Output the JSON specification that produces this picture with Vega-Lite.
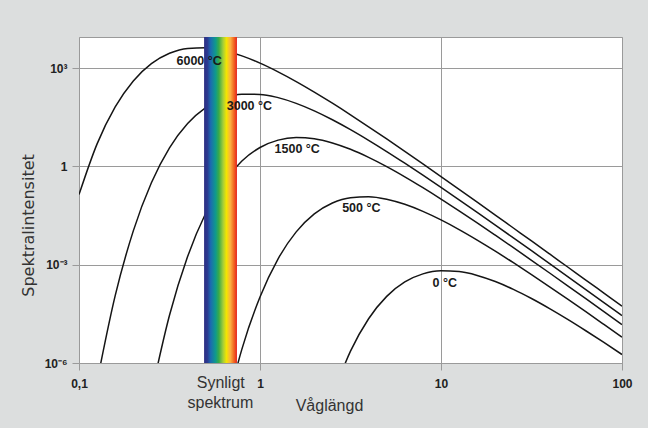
{
  "$schema": "https://vega.github.io/schema/vega-lite/v6.json",
  "width": 543,
  "height": 326,
  "autosize": {"type": "none"},
  "padding": {"left": 79, "top": 37, "right": 26, "bottom": 65},
  "background": "#dcdede",
  "config": {
    "view": {"fill": "white", "stroke": "#9a9a9a", "strokeWidth": 1},
    "font": "Liberation Sans"
  },
  "datasets": {
    "curves": [
      {"s": "6000", "wl": 0.1, "i": 0.1377},
      {"s": "6000", "wl": 0.12589, "i": 4.864},
      {"s": "6000", "wl": 0.15849, "i": 65.31},
      {"s": "6000", "wl": 0.19953, "i": 404.6},
      {"s": "6000", "wl": 0.25119, "i": 1361},
      {"s": "6000", "wl": 0.31623, "i": 2818},
      {"s": "6000", "wl": 0.39811, "i": 3972},
      {"s": "6000", "wl": 0.50119, "i": 4140},
      {"s": "6000", "wl": 0.63096, "i": 3412},
      {"s": "6000", "wl": 0.79433, "i": 2350},
      {"s": "6000", "wl": 1, "i": 1413},
      {"s": "6000", "wl": 1.2589, "i": 767.4},
      {"s": "6000", "wl": 1.5849, "i": 387.3},
      {"s": "6000", "wl": 1.9953, "i": 184.5},
      {"s": "6000", "wl": 2.5119, "i": 84.33},
      {"s": "6000", "wl": 3.1623, "i": 37.37},
      {"s": "6000", "wl": 3.9811, "i": 16.14},
      {"s": "6000", "wl": 5.0119, "i": 6.855},
      {"s": "6000", "wl": 6.3096, "i": 2.871},
      {"s": "6000", "wl": 7.9433, "i": 1.189},
      {"s": "6000", "wl": 10, "i": 0.4887},
      {"s": "6000", "wl": 12.589, "i": 0.1991},
      {"s": "6000", "wl": 15.849, "i": 0.08091},
      {"s": "6000", "wl": 19.953, "i": 0.03266},
      {"s": "6000", "wl": 25.119, "i": 0.01315},
      {"s": "6000", "wl": 31.623, "i": 0.005297},
      {"s": "6000", "wl": 39.811, "i": 0.002123},
      {"s": "6000", "wl": 50.119, "i": 0.0008492},
      {"s": "6000", "wl": 63.096, "i": 0.0003404},
      {"s": "6000", "wl": 79.433, "i": 0.0001358},
      {"s": "6000", "wl": 100, "i": 0.0000542},

      {"s": "3000", "wl": 0.12589, "i": 2.72e-7},
      {"s": "3000", "wl": 0.15849, "i": 0.0001132},
      {"s": "3000", "wl": 0.19953, "i": 0.01076},
      {"s": "3000", "wl": 0.25119, "i": 0.3155},
      {"s": "3000", "wl": 0.31623, "i": 3.656},
      {"s": "3000", "wl": 0.39811, "i": 20.18},
      {"s": "3000", "wl": 0.50119, "i": 61.8},
      {"s": "3000", "wl": 0.63096, "i": 118.9},
      {"s": "3000", "wl": 0.79433, "i": 157.8},
      {"s": "3000", "wl": 1, "i": 157.0},
      {"s": "3000", "wl": 1.2589, "i": 125.0},
      {"s": "3000", "wl": 1.5849, "i": 83.75},
      {"s": "3000", "wl": 1.9953, "i": 49.43},
      {"s": "3000", "wl": 2.5119, "i": 26.49},
      {"s": "3000", "wl": 3.1623, "i": 13.21},
      {"s": "3000", "wl": 3.9811, "i": 6.237},
      {"s": "3000", "wl": 5.0119, "i": 2.838},
      {"s": "3000", "wl": 6.3096, "i": 1.25},
      {"s": "3000", "wl": 7.9433, "i": 0.5383},
      {"s": "3000", "wl": 10, "i": 0.228},
      {"s": "3000", "wl": 12.589, "i": 0.09528},
      {"s": "3000", "wl": 15.849, "i": 0.03936},
      {"s": "3000", "wl": 19.953, "i": 0.01614},
      {"s": "3000", "wl": 25.119, "i": 0.006577},
      {"s": "3000", "wl": 31.623, "i": 0.002667},
      {"s": "3000", "wl": 39.811, "i": 0.001079},
      {"s": "3000", "wl": 50.119, "i": 0.0004345},
      {"s": "3000", "wl": 63.096, "i": 0.0001746},
      {"s": "3000", "wl": 79.433, "i": 0.00006999},
      {"s": "3000", "wl": 100, "i": 0.00002799},

      {"s": "1500", "wl": 0.25119, "i": 1.172e-7},
      {"s": "1500", "wl": 0.31623, "i": 0.00002851},
      {"s": "1500", "wl": 0.39811, "i": 0.001766},
      {"s": "1500", "wl": 0.50119, "i": 0.03698},
      {"s": "1500", "wl": 0.63096, "i": 0.3266},
      {"s": "1500", "wl": 0.79433, "i": 1.456},
      {"s": "1500", "wl": 1, "i": 3.767},
      {"s": "1500", "wl": 1.2589, "i": 6.324},
      {"s": "1500", "wl": 1.5849, "i": 7.569},
      {"s": "1500", "wl": 1.9953, "i": 6.934},
      {"s": "1500", "wl": 2.5119, "i": 5.176},
      {"s": "1500", "wl": 3.1623, "i": 3.311},
      {"s": "1500", "wl": 3.9811, "i": 1.884},
      {"s": "1500", "wl": 5.0119, "i": 0.984},
      {"s": "1500", "wl": 6.3096, "i": 0.4808},
      {"s": "1500", "wl": 7.9433, "i": 0.2239},
      {"s": "1500", "wl": 10, "i": 0.1007},
      {"s": "1500", "wl": 12.589, "i": 0.04395},
      {"s": "1500", "wl": 15.849, "i": 0.01884},
      {"s": "1500", "wl": 19.953, "i": 0.007925},
      {"s": "1500", "wl": 25.119, "i": 0.003304},
      {"s": "1500", "wl": 31.623, "i": 0.001361},
      {"s": "1500", "wl": 39.811, "i": 0.0005572},
      {"s": "1500", "wl": 50.119, "i": 0.0002265},
      {"s": "1500", "wl": 63.096, "i": 0.00009163},
      {"s": "1500", "wl": 79.433, "i": 0.00003698},
      {"s": "1500", "wl": 100, "i": 0.00001489},

      {"s": "500", "wl": 0.63096, "i": 1.941e-8},
      {"s": "500", "wl": 0.79433, "i": 0.000002655},
      {"s": "500", "wl": 1, "i": 0.0001038},
      {"s": "500", "wl": 1.2589, "i": 0.00151},
      {"s": "500", "wl": 1.5849, "i": 0.01},
      {"s": "500", "wl": 1.9953, "i": 0.0354},
      {"s": "500", "wl": 2.5119, "i": 0.07621},
      {"s": "500", "wl": 3.1623, "i": 0.1109},
      {"s": "500", "wl": 3.9811, "i": 0.1186},
      {"s": "500", "wl": 5.0119, "i": 0.09954},
      {"s": "500", "wl": 6.3096, "i": 0.0695},
      {"s": "500", "wl": 7.9433, "i": 0.04227},
      {"s": "500", "wl": 10, "i": 0.02317},
      {"s": "500", "wl": 12.589, "i": 0.01175},
      {"s": "500", "wl": 15.849, "i": 0.005623},
      {"s": "500", "wl": 19.953, "i": 0.002582},
      {"s": "500", "wl": 25.119, "i": 0.001146},
      {"s": "500", "wl": 31.623, "i": 0.0004966},
      {"s": "500", "wl": 39.811, "i": 0.0002114},
      {"s": "500", "wl": 50.119, "i": 0.00008851},
      {"s": "500", "wl": 63.096, "i": 0.00003673},
      {"s": "500", "wl": 79.433, "i": 0.00001507},
      {"s": "500", "wl": 100, "i": 0.000006152},

      {"s": "0", "wl": 2.5119, "i": 9.727e-8},
      {"s": "0", "wl": 3.1623, "i": 0.000002301},
      {"s": "0", "wl": 3.9811, "i": 0.00002244},
      {"s": "0", "wl": 5.0119, "i": 0.0001079},
      {"s": "0", "wl": 6.3096, "i": 0.0002972},
      {"s": "0", "wl": 7.9433, "i": 0.0005236},
      {"s": "0", "wl": 10, "i": 0.0006501},
      {"s": "0", "wl": 12.589, "i": 0.0006152},
      {"s": "0", "wl": 15.849, "i": 0.0004699},
      {"s": "0", "wl": 19.953, "i": 0.0003055},
      {"s": "0", "wl": 25.119, "i": 0.0001762},
      {"s": "0", "wl": 31.623, "i": 0.00009268},
      {"s": "0", "wl": 39.811, "i": 0.0000456},
      {"s": "0", "wl": 50.119, "i": 0.00002138},
      {"s": "0", "wl": 63.096, "i": 0.000009638},
      {"s": "0", "wl": 79.433, "i": 0.000004227},
      {"s": "0", "wl": 100, "i": 0.000001816}
    ],
    "band": [{"wl": 0.491, "wl2": 0.746}],
    "labels": [
      {"txt": "6000 °C", "wl": 0.461, "i": 1585},
      {"txt": "3000 °C", "wl": 0.874, "i": 70.8},
      {"txt": "1500 °C", "wl": 1.606, "i": 3.38},
      {"txt": "500 °C", "wl": 3.63, "i": 0.0536},
      {"txt": "0 °C", "wl": 10.48, "i": 0.000276}
    ],
    "notes": [
      {"txt": "Synligt", "wl": 0.607, "i": 2.455e-7},
      {"txt": "spektrum", "wl": 0.604, "i": 6.03e-8}
    ]
  },
  "layer": [
    {
      "data": {"name": "curves"},
      "mark": {"type": "line", "interpolate": "monotone", "clip": true, "color": "#151515", "strokeWidth": 1.5},
      "encoding": {
        "x": {
          "field": "wl", "type": "quantitative",
          "scale": {"type": "log", "domain": [0.1, 100], "nice": false},
          "axis": {
            "values": [0.1, 1, 10, 100],
            "labelExpr": "datum.value < 0.5 ? '0,1' : format(datum.value, 'd')",
            "grid": true, "gridColor": "#9a9a9a", "gridWidth": 1,
            "domain": false, "tickColor": "#9a9a9a", "tickSize": 7,
            "labelFont": "Liberation Sans", "labelFontWeight": "bold", "labelFontSize": 12,
            "labelColor": "#222222", "labelPadding": 8, "labelFlush": false,
            "title": "Våglängd", "titleFont": "Liberation Sans", "titleFontWeight": "normal",
            "titleFontSize": 16, "titleColor": "#333333",
            "titleX": 250, "titleY": 42, "titleBaseline": "middle", "titleAlign": "center"
          }
        },
        "y": {
          "field": "i", "type": "quantitative",
          "scale": {"type": "log", "domain": [0.000001, 8850], "nice": false},
          "axis": {
            "values": [0.000001, 0.001, 1, 1000],
            "labelExpr": "datum.value > 100 ? '10³' : datum.value > 0.5 ? '1' : datum.value > 0.0005 ? '10⁻³' : '10⁻⁶'",
            "grid": true, "gridColor": "#9a9a9a", "gridWidth": 1,
            "domain": false, "tickColor": "#9a9a9a", "tickSize": 7,
            "labelFont": "Liberation Sans", "labelFontWeight": "bold", "labelFontSize": 12,
            "labelColor": "#222222", "labelPadding": 5, "labelFlush": false,
            "title": "Spektralintensitet", "titleFont": "DejaVu Sans", "titleFontWeight": "normal",
            "titleFontSize": 16, "titleColor": "#333333",
            "titleX": -51, "titleY": 188, "titleAngle": -90, "titleBaseline": "middle", "titleAlign": "center"
          }
        },
        "detail": {"field": "s"}
      }
    },
    {
      "data": {"name": "band"},
      "mark": {
        "type": "rect",
        "fill": {
          "gradient": "linear", "x1": 0, "y1": 0, "x2": 1, "y2": 0,
          "stops": [
            {"offset": 0, "color": "#2d2e83"},
            {"offset": 0.1, "color": "#2b3990"},
            {"offset": 0.2, "color": "#1c6bb0"},
            {"offset": 0.35, "color": "#0f9a8c"},
            {"offset": 0.45, "color": "#3aaa48"},
            {"offset": 0.58, "color": "#a6ce39"},
            {"offset": 0.68, "color": "#f2e600"},
            {"offset": 0.8, "color": "#fbb040"},
            {"offset": 0.9, "color": "#f26b21"},
            {"offset": 1, "color": "#e5231f"}
          ]
        }
      },
      "encoding": {
        "x": {"field": "wl", "type": "quantitative"},
        "x2": {"field": "wl2"}
      }
    },
    {
      "data": {"name": "labels"},
      "mark": {"type": "text", "font": "Liberation Sans", "fontWeight": "bold", "fontSize": 12.5, "color": "#1a1a1a", "align": "center", "baseline": "middle"},
      "encoding": {
        "x": {"field": "wl", "type": "quantitative"},
        "y": {"field": "i", "type": "quantitative"},
        "text": {"field": "txt"}
      }
    },
    {
      "data": {"name": "notes"},
      "mark": {"type": "text", "font": "Liberation Sans", "fontSize": 16, "color": "#333333", "align": "center", "baseline": "middle", "clip": false},
      "encoding": {
        "x": {"field": "wl", "type": "quantitative"},
        "y": {"field": "i", "type": "quantitative"},
        "text": {"field": "txt"}
      }
    }
  ]
}
